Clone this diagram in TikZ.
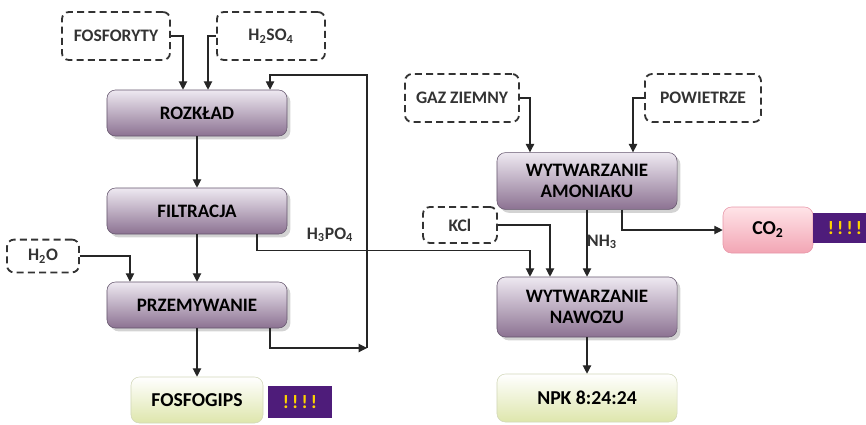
\documentclass[tikz,border=0pt]{standalone}
\usepackage{fontspec}
\setmainfont{Carlito}
\usetikzlibrary{arrows.meta,positioning,shadows}
\definecolor{proctop}{RGB}{238,233,241}
\definecolor{procbot}{RGB}{140,114,146}
\definecolor{procline}{RGB}{100,85,108}
\definecolor{outbot}{RGB}{222,230,172}
\definecolor{outline}{RGB}{210,215,185}
\definecolor{cotop}{RGB}{255,228,232}
\definecolor{cobot}{RGB}{242,165,180}
\definecolor{coline}{RGB}{232,150,168}
\definecolor{alarmviolet}{RGB}{78,28,122}
\definecolor{alarmtext}{RGB}{255,212,0}

\begin{document}
\begin{tikzpicture}[x=0.025cm, y=-0.025cm,
    proc/.style={rectangle, rounded corners=6pt, minimum width=4.5cm,
                 minimum height=1.15cm, draw=procline, top color=proctop,
                 bottom color=procbot, drop shadow={opacity=0.35},
                 align=center, font=\fontsize{13.5}{15}\selectfont\bfseries},
    inbox/.style={rectangle, rounded corners=5pt, draw=black!80, line width=1.3pt,
                  dash pattern=on 5pt off 3pt, minimum height=1.2cm,
                  font=\fontsize{12.5}{14}\selectfont\bfseries, text=black!80},
    outbox/.style={rectangle, rounded corners=6pt, draw=outline, top color=white,
                   bottom color=outbot, minimum height=1.2cm,
                   font=\fontsize{14}{16}\selectfont\bfseries},
    alarm/.style={rectangle, fill=alarmviolet, text=alarmtext, minimum width=1.6cm,
                  minimum height=0.78cm, font=\fontsize{13.5}{15}\selectfont\bfseries},
    lbl/.style={font=\fontsize{12.5}{14}\selectfont\bfseries, text=black!80},
    arrow/.style={->, >={Triangle[length=6pt,width=6pt]}, line width=0.8pt, draw=black!85}
  ]
    \useasboundingbox (0,0) rectangle (866,424);

    % fosfor column
    \node[inbox, minimum width=2.7cm] (fos) at (116,36)  {FOSFORYTY};
    \node[inbox, minimum width=2.7cm] (hso) at (271,36)  {H\textsubscript{2}SO\textsubscript{4}};
    \node[proc]                       (rozk)  at (197,113) {ROZKŁAD};
    \node[proc]                       (filt)  at (197,211) {FILTRACJA};
    \node[inbox, minimum width=1.8cm, minimum height=0.82cm] (hwo) at (43,256) {H\textsubscript{2}O};
    \node[proc]                       (przem) at (197,305) {PRZEMYWANIE};
    \node[outbox, minimum width=3.3cm, minimum height=1.15cm] (gips) at (197,400) {FOSFOGIPS};
    \node[alarm] (gipsalarm) at (300,402) {!\,!\,!\,!};

    % ammonia / fertiliser column
    \node[inbox, minimum width=2.85cm] (gaz) at (462,98)  {GAZ ZIEMNY};
    \node[inbox, minimum width=2.9cm]  (pow) at (703,98)  {POWIETRZE};
    \node[proc, minimum height=1.42cm] (amon) at (587,181) {WYTWARZANIE\\AMONIAKU};
    \node[inbox, minimum width=1.85cm, minimum height=0.9cm] (kcl) at (460,225) {KCl};
    \node[rectangle, rounded corners=6pt, draw=coline, top color=cotop, bottom color=cobot,
          minimum width=2.25cm, minimum height=1.15cm,
          font=\fontsize{14}{16}\selectfont\bfseries] (co) at (768,230) {CO\textsubscript{2}};
    \node[alarm, minimum height=0.75cm] (coalarm) at (845,228) {!\,!\,!\,!};
    \node[proc, minimum height=1.5cm]  (nawoz) at (587,307) {WYTWARZANIE\\NAWOZU};
    \node[outbox, minimum width=4.5cm] (npk) at (587,398) {NPK 8:24:24};

    \node[lbl] (h3label)  at (330,235) {H\textsubscript{3}PO\textsubscript{4}};
    \node[lbl] (nh3label) at (602,242) {NH\textsubscript{3}};
    \coordinate (ret)    at (367,348);
    \coordinate (rettop) at (367,75);

    \draw[arrow] (fos.east) -| ([xshift=-0.35cm]rozk.north);
    \draw[arrow] (hso.west) -| ([xshift=0.275cm]rozk.north);
    \draw[arrow] (rozk) -- (filt);
    \draw[arrow] (filt) -- (przem);
    \draw[arrow] (hwo.east) -| ([xshift=-1.675cm]przem.north);
    \draw[arrow] (przem) -- (gips);
    \draw[arrow] ([xshift=1.825cm]przem.south) |- (ret);
    \draw[arrow] (ret) -- (rettop) -| ([xshift=1.825cm]rozk.north);
    \draw[arrow] ([xshift=1.5cm]filt.south) -- ++(0,16) -| ([xshift=-1.425cm]nawoz.north);

    \draw[arrow] (gaz.east) -| ([xshift=-1.425cm]amon.north);
    \draw[arrow] (pow.west) -| ([xshift=1.15cm]amon.north);
    \draw[arrow] (kcl.east) -| ([xshift=-0.925cm]nawoz.north);
    \draw[arrow] (amon) -- (nawoz);
    \draw[arrow] ([xshift=0.875cm]amon.south) |- (co.west);
    \draw[arrow] (nawoz) -- (npk);
  \end{tikzpicture}
\end{document}
